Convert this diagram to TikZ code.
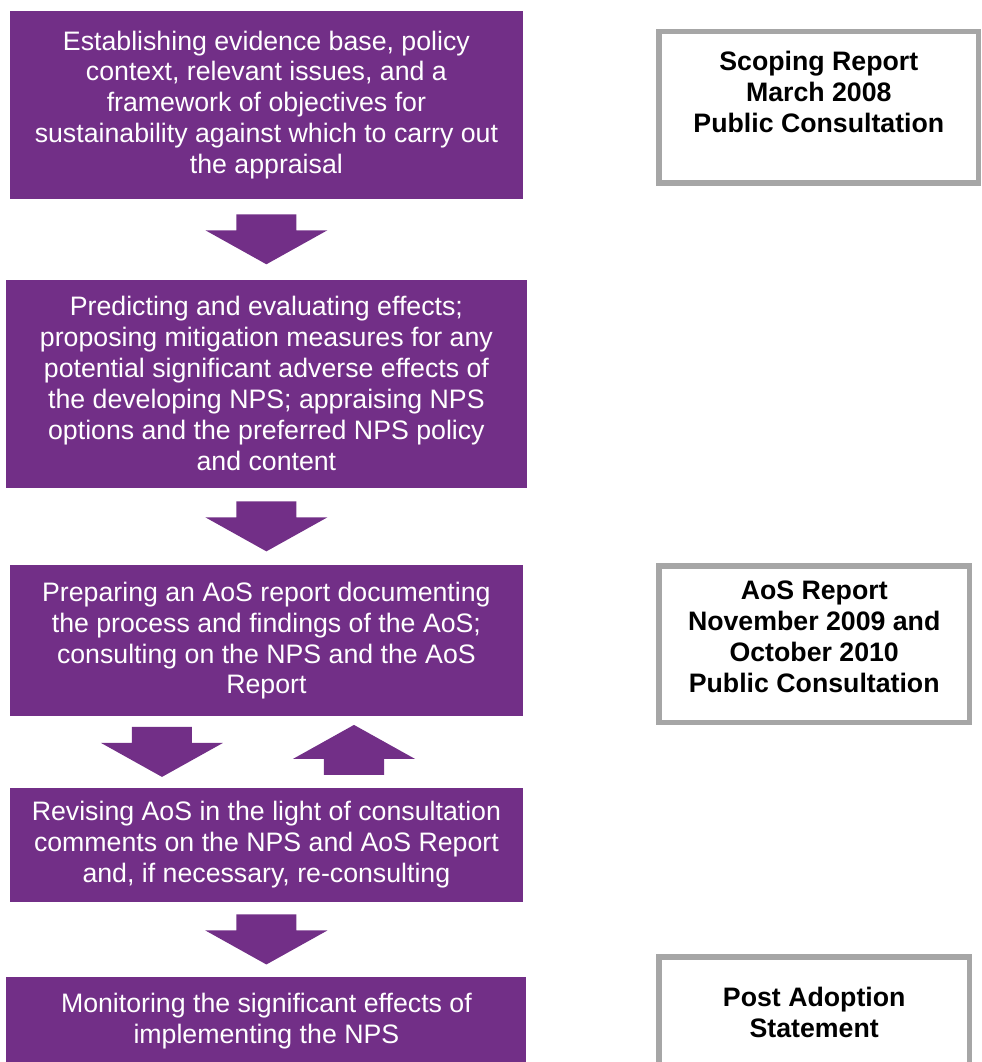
\documentclass[tikz,border=0pt]{standalone}
\usepackage{fontspec}
\setmainfont{Liberation Sans}
\usetikzlibrary{positioning, calc}
\definecolor{aospurple}{RGB}{114,47,135}
\definecolor{reportgray}{RGB}{166,166,166}
\tikzset{
  stage/.style={rectangle, minimum width=12.82cm, align=center, fill=aospurple, text=white, font=\fontsize{19}{22}\selectfont},
  report/.style={rectangle, minimum width=7.76cm, align=center, draw=reportgray, line width=0.1375cm, fill=white, font=\fontsize{19}{22}\selectfont\bfseries},
  blockarrow/.pic={\fill[aospurple] (-0.75,0.625) -- (0.75,0.625) -- (0.75,0.225) -- (1.525,0.225) -- (0,-0.625) -- (-1.525,0.225) -- (-0.75,0.225) -- cycle;}
}

\begin{document}
\begin{tikzpicture}[node distance=2cm]
        \useasboundingbox (-6.66,2.625) rectangle (17.865,-23.925);

        % === LEFT COLUMN: AoS stages ===
        \node (evidence) [stage, minimum height=4.7cm] {Establishing evidence base, policy\\context, relevant issues, and a\\framework of objectives for\\sustainability against which to carry out\\the appraisal};
        \node (effects) [stage, minimum width=13.04cm, minimum height=5.2cm, below=2.0cm of evidence] {Predicting and evaluating effects;\\proposing mitigation measures for any\\potential significant adverse effects of\\the developing NPS; appraising NPS\\options and the preferred NPS policy\\and content};
        \node (aosreport) [stage, minimum height=3.775cm, below=1.925cm of effects] {Preparing an AoS report documenting\\the process and findings of the AoS;\\consulting on the NPS and the AoS\\Report};
        \node (revising) [stage, minimum height=2.85cm, below=1.775cm of aosreport] {Revising AoS in the light of consultation\\comments on the NPS and AoS Report\\and, if necessary, re-consulting};
        \node (monitoring) [stage, minimum width=13cm, minimum height=2.2cm, below=1.875cm of revising] {Monitoring the significant effects of\\implementing the NPS};

        \pic at ($(evidence.south)!0.5!(effects.north)$) {blockarrow};
        \pic at ($(effects.south)!0.5!(aosreport.north)$) {blockarrow};
        \pic at ($(aosreport.south)!0.5!(revising.north)+(-2.61,0)$) {blockarrow};
        \pic[rotate=180] at ($(aosreport.south)!0.5!(revising.north)+(2.19,0.05)$) {blockarrow};
        \pic at ($(revising.south)!0.5!(monitoring.north)$) {blockarrow};

        % === RIGHT COLUMN: reports ===
        \node (scoping) [report, minimum width=7.99cm, minimum height=3.79cm, right=3.33cm of evidence, yshift=-0.06cm] {Scoping Report\\March 2008\\Public Consultation\\\mbox{}};
        \node (aosdoc) [report, minimum height=3.91cm, right=3.33cm of aosreport, yshift=-0.09cm] {AoS Report\\November 2009 and\\October 2010\\Public Consultation\\[-11pt]\mbox{}};
        \node (adoption) [report, minimum height=3.79cm, right=3.24cm of monitoring, yshift=-0.29cm] {Post Adoption\\Statement\\\strut};

    \end{tikzpicture}
\end{document}
